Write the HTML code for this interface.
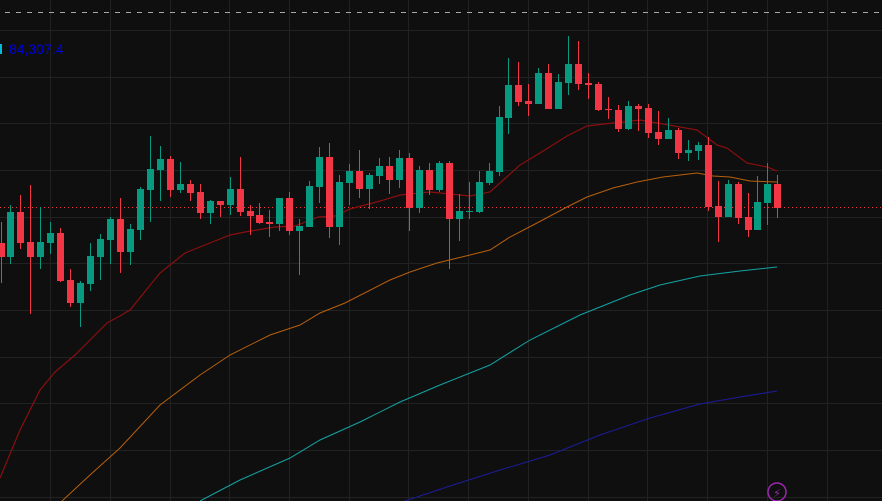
<!DOCTYPE html>
<html><head><meta charset="utf-8"><style>
html,body{margin:0;padding:0;background:#0f0f0f;overflow:hidden}
svg{display:block}
</style></head><body>
<svg id="s" width="882" height="501" viewBox="0 0 882 501" xmlns="http://www.w3.org/2000/svg">
<rect width="882" height="501" fill="#0f0f0f"/>
<g id="grid" stroke="#222" stroke-width="1"></g>
<line x1="5" y1="12.5" x2="882" y2="12.5" stroke="#a8a8a8" stroke-width="1" stroke-dasharray="5,6"/>
<line x1="0" y1="207.5" x2="882" y2="207.5" stroke="#f23645" stroke-width="1" stroke-dasharray="1,3"/>
<polyline fill="none" stroke="#1c1c9c" stroke-width="1" points="405,501 450,486 500,470 550,455 600,435 650,418 700,404 740,397 777,391"/>
<polyline fill="none" stroke="#14a3a3" stroke-width="1" points="200,501 240,480 290,458 320,440 360,422 400,402 440,385 490,365 530,340 580,315 630,295 660,285 700,276 740,271 777,267"/>
<polyline fill="none" stroke="#b8600c" stroke-width="1" points="62,501 90,475 120,448 160,405 200,375 230,355 270,335 300,325 320,313 345,303 390,280 410,272 437,263 470,255 490,250 510,237 537,223 567,207 587,197 613,188 637,182 663,177 697,173 713,176 730,177 750,181 777,182"/>
<polyline fill="none" stroke="#8a0f0f" stroke-width="1.2" points="0,478 20,430 40,390 55,372 75,355 95,335 107,323 120,316 130,310 160,273 170,265 185,253 205,245 230,235 245,232 275,227 295,226 318,217 335,216 350,209 380,201 400,195 430,192 470,196 490,192 500,183 520,165 540,153 567,136 587,126 613,123 640,120 663,124 697,130 717,145 727,148 747,163 767,167 777,171"/>
<g id="c"></g>
<rect x="0" y="44" width="2" height="10" fill="#00bcd4"/>
<text x="9" y="54" font-family="Liberation Sans, sans-serif" font-size="14" fill="#0000e0">84,307.4</text>
<circle cx="777" cy="492" r="9" fill="none" stroke="#9c27b0" stroke-width="1.5"/>
<text x="777" y="497" text-anchor="middle" font-family="DejaVu Sans, sans-serif" font-size="11" fill="#9c27b0">⚡</text>
</svg>
<script>
var g=document.getElementById('grid'),NS='http://www.w3.org/2000/svg',h='';
[50,110,170,229,289,349,408,468,528,588,647,707,767,827].forEach(function(x){h+='<line x1="'+(x+.5)+'" y1="0" x2="'+(x+.5)+'" y2="501"/>';});
for(var y=30;y<501;y+=46.67){var yy=Math.round(y)+.5;h+='<line x1="0" y1="'+yy+'" x2="882" y2="'+yy+'"/>';}
g.innerHTML=h;
// [type, bodyTop, bodyBot, high, low]  g=green r=red
var d=[
['r',243,257,222,283],['g',212,257,205,264],['r',212,243,195,249],['r',242,257,185,314],['g',242,257,207,269],
['g',233,243,222,254],['r',233,281,228,282],['r',280,303,269,307],['g',283,303,281,327],['g',256,284,243,291],
['g',239,257,234,280],['g',219,240,217,264],['r',219,252,198,273],['g',229,252,224,265],['g',189,230,187,240],
['g',169,190,136,222],['g',159,170,146,201],['r',159,190,156,197],['g',184,190,162,193],['r',184,193,180,201],
['r',192,213,184,219],['g',201,213,200,224],['r',201,205,201,217],['g',189,205,177,215],['r',189,212,157,216],
['r',211,216,205,235],['r',215,223,203,224],['r',222,224,210,237],['g',198,224,198,231],['r',198,231,192,235],
['g',226,231,219,275],['g',186,227,181,227],['g',157,187,147,203],['r',157,227,143,238],['g',182,227,175,245],
['g',171,183,164,205],['r',171,189,150,198],['g',175,189,173,209],['g',166,176,158,184],['r',166,180,157,194],
['g',158,180,150,188],['r',158,208,153,231],['g',170,208,166,213],['r',170,190,163,195],['g',163,190,161,192],
['r',163,219,161,269],['g',211,219,194,241],['g',211,212,182,219],['g',182,212,171,213],['g',171,183,163,185],
['g',117,172,106,176],['g',85,118,58,134],['r',85,102,62,106],['r',101,104,84,116],['g',73,104,68,104],
['r',73,109,64,109],['g',82,109,74,109],['g',64,83,36,95],['r',64,84,41,90],['r',83,85,73,99],
['r',84,110,82,111],['r',109,110,97,119],['r',110,129,105,132],['g',106,129,101,130],['r',106,109,104,131],
['r',108,133,104,138],['r',132,139,111,145],['g',130,139,118,139],['r',130,153,128,159],['g',150,153,140,161],
['g',145,151,142,160],['r',145,207,137,211],['r',206,217,181,242],['g',184,217,180,217],['r',184,218,182,224],
['r',217,230,193,237],['g',202,230,176,230],['g',184,203,163,225],['r',184,208,175,218]];
var c='';
d.forEach(function(k,i){var x=0.5+9.96*i,col=k[0]=='g'?'#089981':'#f23645';
var xi=Math.round(x);
c+='<rect x="'+xi+'" y="'+k[3]+'" width="1" height="'+(k[4]-k[3])+'" fill="'+col+'"/>';
c+='<rect x="'+(xi-3)+'" y="'+k[1]+'" width="7" height="'+Math.max(1,k[2]-k[1])+'" fill="'+col+'"/>';});
document.getElementById('c').innerHTML=c;
</script>
</body></html>
